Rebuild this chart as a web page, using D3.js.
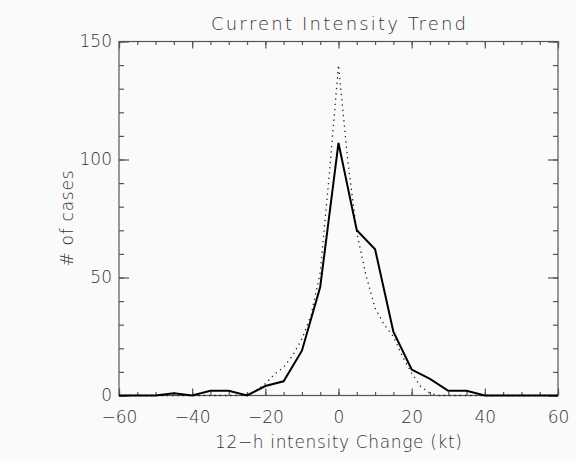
<!DOCTYPE html>
<html>
<head>
<meta charset="utf-8">
<script src="https://cdn.jsdelivr.net/npm/d3@7"></script>
<style>
  body { margin: 0; background: #fafafa; }
  svg text { font-family: "DejaVu Sans", "Liberation Sans", sans-serif; font-weight: 200; fill: #333; }
</style>
</head>
<body>
<div id="chart-area"></div>
<script>
// 12-h intensity change bins (kt)
const bins = d3.range(-60, 61, 5);
const observed = [0, 0, 0, 1, 0, 2, 2, 0, 4, 6, 19, 46, 107, 70, 62, 27, 11, 7, 2, 2, 0, 0, 0, 0, 0];

// reference (dotted) curve
const refX = [-60, -30, -27.5, -25, -22.5, -20, -17.5, -15, -12.5, -10, -7.5, -5, -2.5, 0,
              2.5, 5, 7.5, 10, 12.5, 15, 17.5, 20, 22.5, 25, 27.5, 30, 60];
const refY = [0, 0, 0, 0.5, 2, 5, 9, 12, 17, 24, 34, 52, 94, 140,
              100, 69, 51, 37, 30, 25, 16.5, 9.5, 3.7, 1, 0, 0, 0];

const xTicks = [-60, -40, -20, 0, 20, 40, 60];
const yTicks = [0, 50, 100, 150];

const W = 576, H = 461;
const margin = {top: 41.5, right: 18, bottom: 65.5, left: 119};

const svg = d3.select("#chart-area")
    .append("svg")
    .attr("width", W)
    .attr("height", H)
    .style("background", "#fafafa");

const x = d3.scaleLinear()
    .domain([-60, 60])
    .range([margin.left, W - margin.right]);

const y = d3.scaleLinear()
    .domain([0, 150])
    .range([H - margin.bottom, margin.top]);

const axisColor = "#555";

function styleAxis(g) {
    g.select(".domain").remove();
    g.selectAll("line").attr("stroke", axisColor).attr("stroke-width", 1.2);
    g.selectAll("text").style("font-size", "17px").style("font-family", null).attr("fill", "#333");
}

const fmt = d => d < 0 ? "\u2212" + Math.abs(d) : String(d);

// bottom axis
svg.append("g")
    .attr("transform", `translate(0, ${y(0)})`)
    .call(d3.axisBottom(x).tickValues(d3.range(-60, 61, 5)).tickSize(-3.5).tickFormat(""))
    .call(styleAxis);
svg.append("g")
    .attr("transform", `translate(0, ${y(0)})`)
    .call(d3.axisBottom(x).tickValues(xTicks).tickSize(-7).tickPadding(15).tickFormat(fmt))
    .call(styleAxis);

// top axis
svg.append("g")
    .attr("transform", `translate(0, ${y(150)})`)
    .call(d3.axisTop(x).tickValues(d3.range(-60, 61, 5)).tickSize(-3.5).tickFormat(""))
    .call(styleAxis);
svg.append("g")
    .attr("transform", `translate(0, ${y(150)})`)
    .call(d3.axisTop(x).tickValues(xTicks).tickSize(-7).tickFormat(""))
    .call(styleAxis);

// left axis
svg.append("g")
    .attr("transform", `translate(${x(-60)}, 0)`)
    .call(d3.axisLeft(y).tickValues(d3.range(0, 151, 10)).tickSize(-5).tickFormat(""))
    .call(styleAxis);
svg.append("g")
    .attr("transform", `translate(${x(-60)}, 0)`)
    .call(d3.axisLeft(y).tickValues(yTicks).tickSize(-10).tickPadding(7).tickFormat(fmt))
    .call(styleAxis);

// right axis
svg.append("g")
    .attr("transform", `translate(${x(60)}, 0)`)
    .call(d3.axisRight(y).tickValues(d3.range(0, 151, 10)).tickSize(-5).tickFormat(""))
    .call(styleAxis);
svg.append("g")
    .attr("transform", `translate(${x(60)}, 0)`)
    .call(d3.axisRight(y).tickValues(yTicks).tickSize(-10).tickFormat(""))
    .call(styleAxis);

// frame
svg.append("rect")
    .attr("x", x(-60))
    .attr("y", y(150))
    .attr("width", x(60) - x(-60))
    .attr("height", y(0) - y(150))
    .attr("fill", "none")
    .attr("stroke", axisColor)
    .attr("stroke-width", 1.2);

const line = d3.line()
    .x(d => x(d[0]))
    .y(d => y(d[1]));

svg.append("path")
    .datum(d3.zip(refX, refY))
    .attr("d", line)
    .attr("fill", "none")
    .attr("stroke", "#222")
    .attr("stroke-width", 1.3)
    .attr("stroke-dasharray", "1.3,4");

svg.append("path")
    .datum(d3.zip(bins, observed))
    .attr("d", line)
    .attr("fill", "none")
    .attr("stroke", "#000")
    .attr("stroke-width", 2);

// titles
svg.append("text")
    .attr("x", (x(-60) + x(60)) / 2)
    .attr("y", 29.5)
    .attr("text-anchor", "middle")
    .style("font-size", "18px")
    .attr("textLength", 255)
    .attr("lengthAdjust", "spacing")
    .text("Current Intensity Trend");

svg.append("text")
    .attr("x", (x(-60) + x(60)) / 2)
    .attr("y", 447.5)
    .attr("text-anchor", "middle")
    .style("font-size", "17px")
    .attr("textLength", 247)
    .attr("lengthAdjust", "spacing")
    .text("12\u2212h intensity Change (kt)");

svg.append("text")
    .attr("transform", `translate(73, ${y(75)}) rotate(-90)`)
    .attr("text-anchor", "middle")
    .style("font-size", "17px")
    .attr("textLength", 96)
    .attr("lengthAdjust", "spacing")
    .text("# of cases");
</script>
</body>
</html>
